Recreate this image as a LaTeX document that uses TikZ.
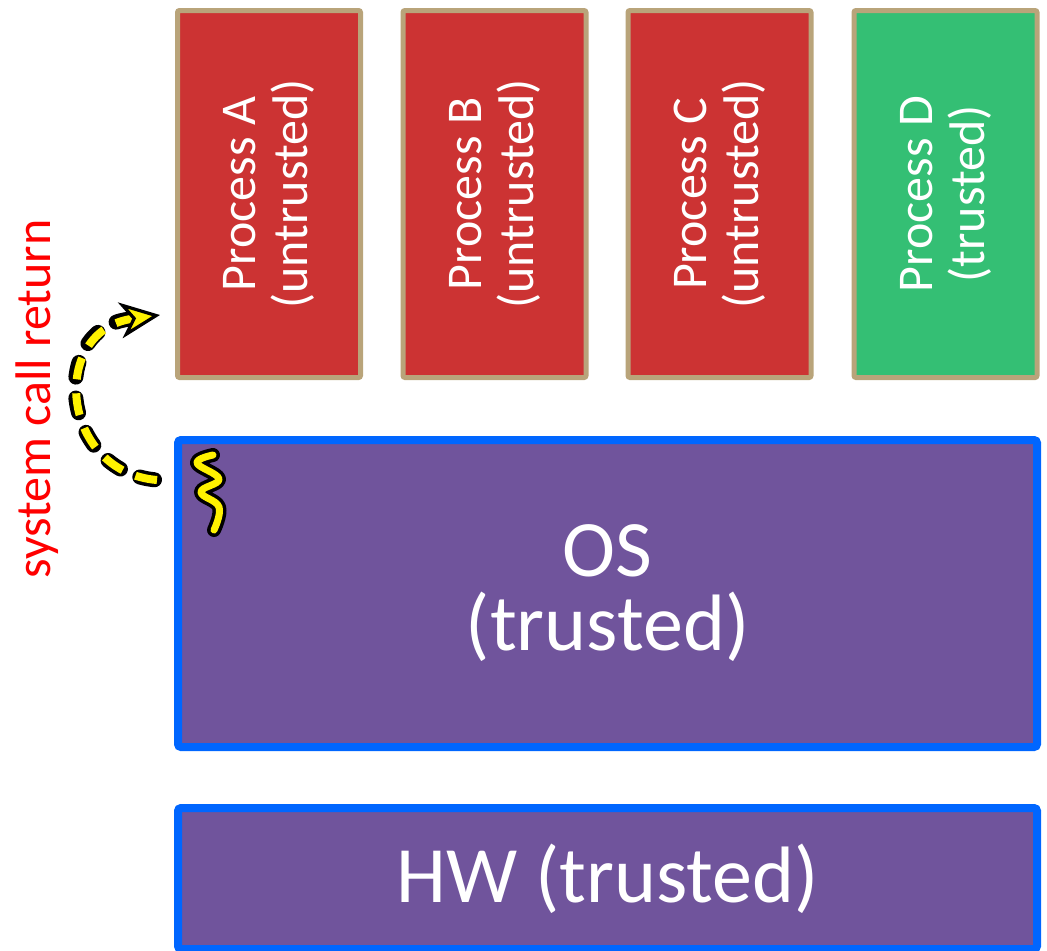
\documentclass[tikz,border=0pt]{standalone}
\usepackage{fontspec}
\setmainfont{Carlito}
\usetikzlibrary{arrows.meta}

\definecolor{procred}{RGB}{204,51,51}
\definecolor{procgreen}{RGB}{52,191,116}
\definecolor{boxtan}{RGB}{185,164,122}
\definecolor{ospurple}{RGB}{112,84,156}
\definecolor{osblue}{RGB}{0,102,255}

\tikzset{
  procbox/.style={draw=boxtan, line width=2.5pt, rounded corners=1pt, rotate=90,
    minimum width=183.5pt, minimum height=91.5pt, inner sep=0pt, text=white,
    align=center, font=\fontsize{25}{26}\selectfont},
  layerbox/.style={draw=osblue, fill=ospurple, line width=4pt, rounded corners=1.5pt,
    minimum width=429.5pt, inner sep=0pt, text=white, align=center,
    font=\fontsize{40}{37}\selectfont},
  glowline/.style={draw=black, line width=7.5pt, line cap=round, line join=round},
  yellowline/.style={draw=yellow, line width=4pt}
}

\begin{document}
\begin{tikzpicture}[x=0.5pt,y=-0.5pt]
\useasboundingbox (0,0) rectangle (1047,950);

\node[procbox, fill=procred] (procA) at (269,194) {Process A\\(untrusted)};
\node[procbox, fill=procred] (procB) at (494.5,194) {Process B\\(untrusted)};
\node[procbox, fill=procred] (procC) at (719.5,194) {Process C\\(untrusted)};
\node[procbox, fill=procgreen] (procD) at (945.5,194) {Process D\\(trusted)};

\node[layerbox, minimum height=153.5pt] (osbox) at (607.5,593.5) {OS\\(trusted)};
\node[layerbox, minimum height=70.5pt] (hwbox) at (607.5,878.5) {HW (trusted)};

\node[rotate=90, anchor=base, text=red, font=\fontsize{25}{26}\selectfont] (sysret) at (50,399) {system call return};

% rotated node: north west sits at the lower left corner
\coordinate (retstart) at ([shift={(-17,44)}]osbox.north west);
\coordinate (retend) at ([shift={(-15,-65)}]procA.north west);

\draw[glowline, dash pattern=on 7.5pt off 10.5pt, dash phase=16.75pt, shorten >=16pt]
  (retstart) .. controls (60,472) and (48,330) .. (retend);
\draw[yellowline, dash pattern=on 11pt off 7pt,
  -{Stealth[length=20pt, width=18pt, inset=6pt, fill=yellow, color=black, line width=1.6pt]}]
  (retstart) .. controls (60,472) and (48,330) .. (retend);

\draw[glowline, line width=7pt] plot[smooth, tension=0.7] coordinates {(213,455) (197,463) (219,479) (201,492) (219,507) (214,530)};
\draw[yellowline, line width=3.5pt, line cap=round, line join=round] plot[smooth, tension=0.7] coordinates {(213,455) (197,463) (219,479) (201,492) (219,507) (214,530)};
\end{tikzpicture}
\end{document}
